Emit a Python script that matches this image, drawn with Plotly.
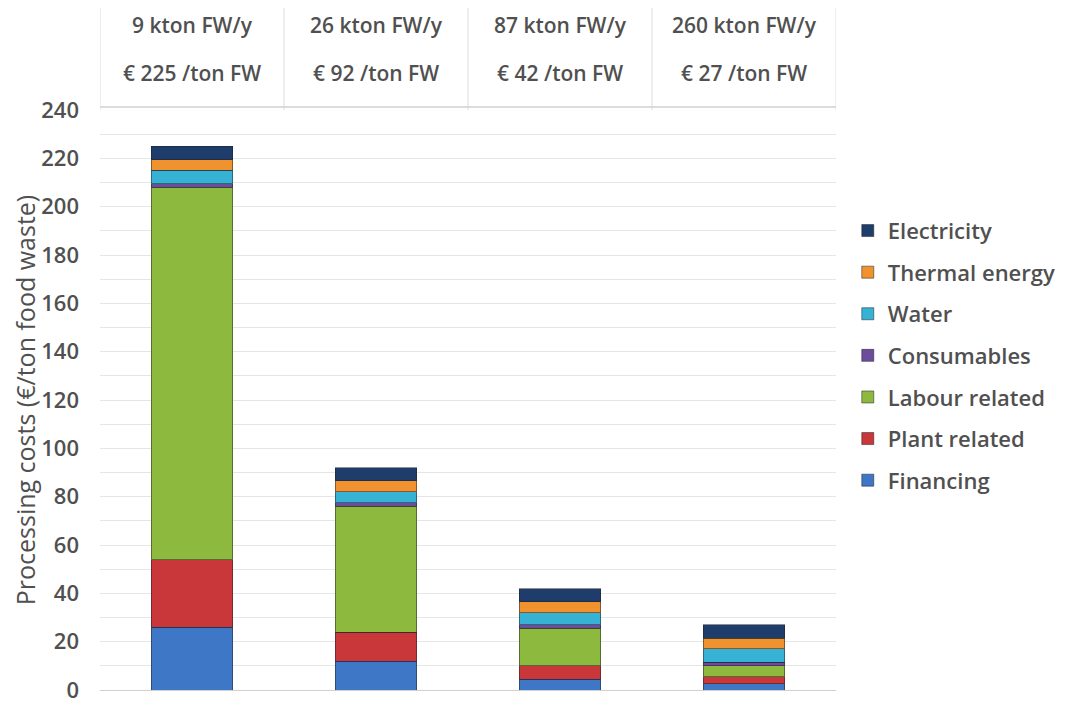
import plotly.graph_objects as go

capacity = ["9 kton FW/y", "26 kton FW/y", "87 kton FW/y", "260 kton FW/y"]
unit_cost = ["€ 225 /ton FW", "€ 92 /ton FW", "€ 42 /ton FW", "€ 27 /ton FW"]

series_names = ["Financing", "Plant related", "Labour related", "Consumables",
                "Water", "Thermal energy", "Electricity"]
financing = [26, 12, 4.5, 2.5]
plant_related = [28, 12, 5.5, 3]
labour_related = [154, 52, 15.5, 4.5]
consumables = [1.5, 1.5, 1.5, 1.5]
water = [5.5, 4.5, 5, 5.5]
thermal_energy = [4.5, 4.5, 4.5, 4.5]
electricity = [5.5, 5.5, 5.5, 5.5]
series_values = [financing, plant_related, labour_related, consumables,
                 water, thermal_energy, electricity]
colors = ["#3E77C6", "#C9373A", "#8DBA3E", "#6E4C9D", "#35B2D4", "#F0922E", "#1F3D6B"]
y_ticks = [0, 20, 40, 60, 80, 100, 120, 140, 160, 180, 200, 220, 240]

FONT = "Open Sans"
TXT = "#505050"

x_idx = list(range(len(capacity)))
fig = go.Figure()
n = len(series_names)
for k, (name, vals, col) in enumerate(zip(series_names, series_values, colors)):
    fig.add_trace(go.Bar(
        x=x_idx, y=vals, name=name, legendgroup=name, legendrank=n - k,
        marker=dict(color=col, line=dict(color="rgba(30,30,40,0.5)", width=1)),
    ))

annotations = []
for i, (c, u) in enumerate(zip(capacity, unit_cost)):
    annotations.append(dict(x=i, y=1.1466, xref="x", yref="paper", text=c, showarrow=False,
                            font=dict(family=FONT, size=21, color=TXT, weight=600),
                            xanchor="center", yanchor="middle"))
    annotations.append(dict(x=i, y=1.0638, xref="x", yref="paper", text=u, showarrow=False,
                            font=dict(family=FONT, size=21, color=TXT, weight=600),
                            xanchor="center", yanchor="middle"))

shapes = []
for k in range(len(capacity) + 1):
    shapes.append(dict(type="line", xref="x", yref="paper", x0=k - 0.5, x1=k - 0.5,
                       y0=1.0, y1=1.19, line=dict(color="#dcdcdc", width=1)))
shapes.append(dict(type="line", xref="x", yref="paper", x0=-0.5, x1=len(capacity) - 0.5,
                   y0=1.005, y1=1.005, line=dict(color="#d0d0d0", width=1.5)))

fig.update_layout(
    width=1065, height=702,
    margin=dict(l=92, r=233, t=102, b=20),
    paper_bgcolor="white", plot_bgcolor="white",
    barmode="stack", bargap=0.556,
    font=dict(family=FONT, color=TXT),
    xaxis=dict(range=[-0.5, 3.5], showticklabels=False, ticks="", showgrid=False,
               zeroline=False, showline=True, linecolor="#d0d0d0", linewidth=1,
               automargin=False),
    yaxis=dict(range=[0, 240], tickvals=y_ticks, showgrid=True, gridcolor="#e6e6e6",
               gridwidth=1, zeroline=False, ticks="", automargin=False,
               ticklabelstandoff=20,
               minor=dict(dtick=10, showgrid=True, gridcolor="#e6e6e6", gridwidth=1),
               tickfont=dict(family=FONT, size=22, color=TXT, weight=600),
               title=dict(text="Processing costs (€/ton food waste)", standoff=16,
                          font=dict(family=FONT, size=25, color=TXT, weight=500))),
    legend=dict(x=1.016, y=0.828, xanchor="left", yanchor="top",
                traceorder="grouped", tracegroupgap=10,
                font=dict(family=FONT, size=22, color=TXT, weight=600),
                itemwidth=30, bgcolor="rgba(0,0,0,0)"),
    annotations=annotations, shapes=shapes,
)

fig.write_html("out.html")
